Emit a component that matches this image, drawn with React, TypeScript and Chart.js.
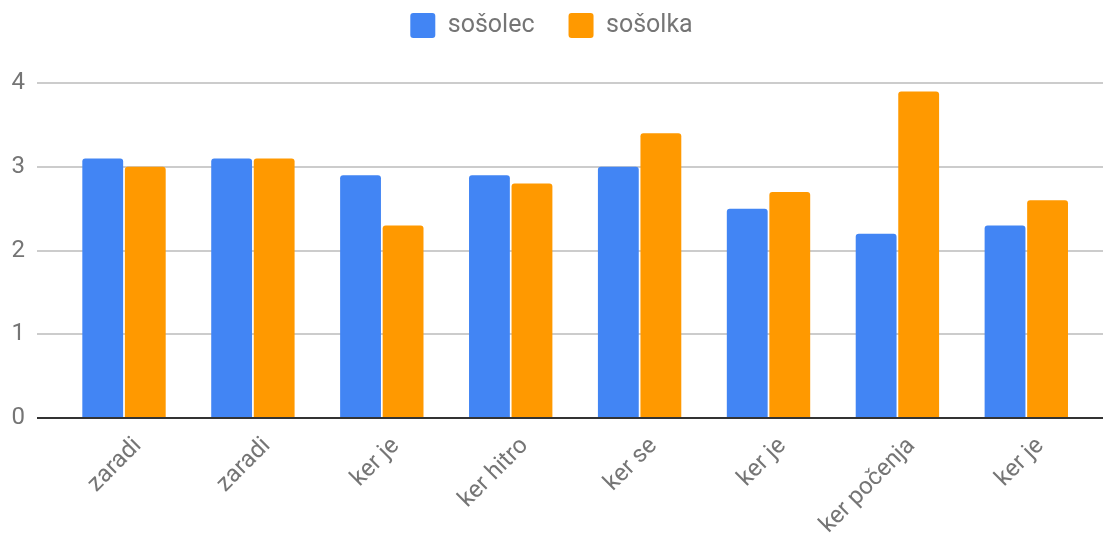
import React, { useEffect, useRef } from "react";
import { Chart, registerables } from "chart.js";

Chart.register(...registerables);

const categories = ["zaradi", "zaradi", "ker je", "ker hitro", "ker se", "ker je", "ker počenja", "ker je"];
const sosolecValues = [3.1, 3.1, 2.9, 2.9, 3.0, 2.5, 2.2, 2.3];
const sosolkaValues = [3.0, 3.1, 2.3, 2.8, 3.4, 2.7, 3.9, 2.6];
const seriesNames = ["sošolec", "sošolka"];
const yTicks = [0, 1, 2, 3, 4];

const legendFitPlugin = {
  id: "legendFit",
  afterInit(chart: any) {
    const legend = chart.legend;
    if (!legend) return;
    const orig = legend.fit.bind(legend);
    legend.fit = function () {
      orig();
      this.height = 104;
    };
  },
};

export default function App() {
  const ref = useRef<HTMLCanvasElement>(null);
  useEffect(() => {
    document.body.style.margin = "0";
    const ctx = ref.current!;
    const chart = new Chart(ctx, {
      type: "bar",
      data: {
        datasets: [
          {
            label: seriesNames[0],
            data: sosolecValues.map((v, i) => ({ x: i, y: v })),
            backgroundColor: "#4285F4",
            borderRadius: 3,
            borderSkipped: "start",
            categoryPercentage: 0.66,
            barPercentage: 0.96,
          },
          {
            label: seriesNames[1],
            data: sosolkaValues.map((v, i) => ({ x: i, y: v })),
            backgroundColor: "#FF9900",
            borderRadius: 3,
            borderSkipped: "start",
            categoryPercentage: 0.66,
            barPercentage: 0.96,
          },
        ],
      },
      plugins: [legendFitPlugin],
      options: {
        animation: false,
        responsive: false,
        maintainAspectRatio: false,
        layout: { padding: { top: -21, left: 0, right: 0, bottom: 0 } },
        plugins: {
          tooltip: { enabled: false },
          legend: {
            position: "top",
            labels: {
              boxWidth: 25,
              boxHeight: 25,
              useBorderRadius: true,
              borderRadius: 3,
              color: "#757575",
              font: { family: "Roboto", size: 25 },
              padding: 34,
            },
          },
        },
        scales: {
          x: {
            type: "linear",
            min: -0.675,
            max: 7.595,
            offset: false,
            grid: { display: false },
            border: { display: false },
            afterBuildTicks: (scale: any) => {
              scale.ticks = categories.map((_, i) => ({ value: i }));
            },
            afterFit: (scale: any) => {
              scale.height = 124;
            },
            ticks: {
              autoSkip: false,
              minRotation: 45,
              maxRotation: 45,
              padding: 6,
              labelOffset: 14,
              color: "#757575",
              font: { family: "Roboto", size: 24 },
              callback: (v: any) => categories[Math.round(Number(v))] ?? "",
            },
          },
          y: {
            min: 0,
            max: 4,
            afterBuildTicks: (scale: any) => {
              scale.ticks = yTicks.map((v) => ({ value: v }));
            },
            afterFit: (scale: any) => {
              scale.width = 37;
            },
            border: { display: false },
            grid: {
              drawTicks: false,
              color: (c: any) => (c.tick && c.tick.value === 0 ? "#333333" : "#cccccc"),
              lineWidth: 2,
            },
            ticks: {
              padding: 12,
              color: "#757575",
              font: { family: "Roboto", size: 24 },
            },
          },
        },
      },
    });
    return () => chart.destroy();
  }, []);
  return (
    <div style={{ width: 1103, height: 542 }}>
      <canvas ref={ref} width={1103} height={542} style={{ display: "block" }} />
    </div>
  );
}
